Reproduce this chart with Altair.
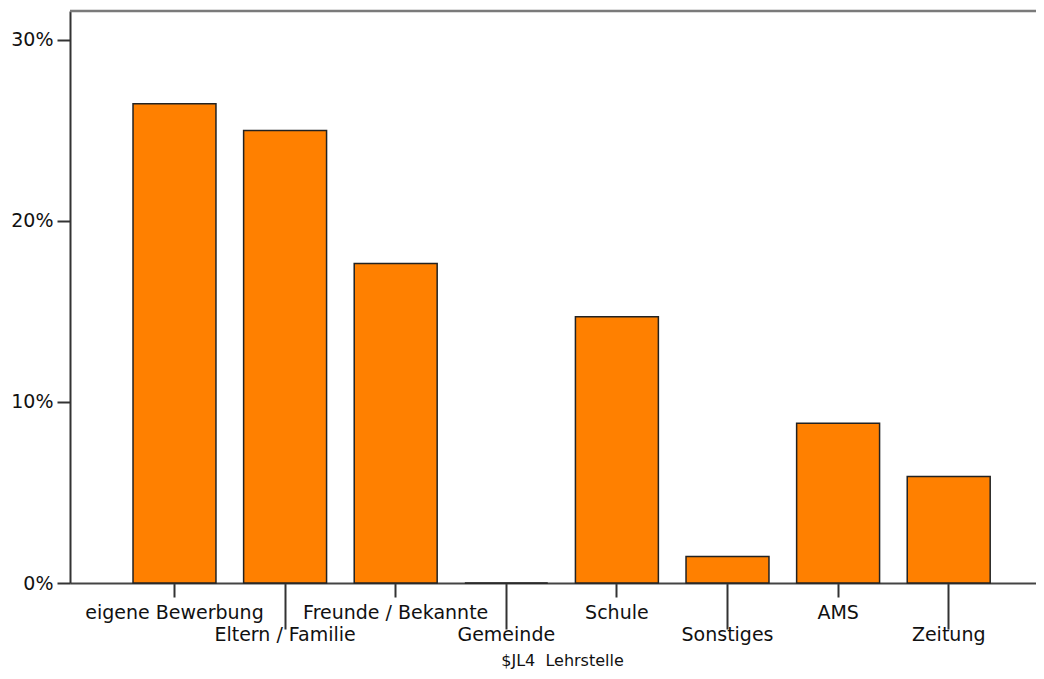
import json
import altair as alt
import pandas as pd

categories = ["eigene Bewerbung", "Eltern / Familie", "Freunde / Bekannte", "Gemeinde",
              "Schule", "Sonstiges", "AMS", "Zeitung"]
percents = [26.47, 25.00, 17.65, 0.0, 14.71, 1.47, 8.82, 5.88]
y_ticks = [0, 10, 20, 30]
lower_row = ["Eltern / Familie", "Gemeinde", "Sonstiges", "Zeitung"]
y_max = 31.6

df = pd.DataFrame({"cat": categories, "pct": percents})

test = "indexof(" + json.dumps(lower_row) + ", datum.value) >= 0"
FONT = "DejaVu Sans"

x_axis = alt.Axis(
    title="$JL4\u00a0 Lehrstelle",
    titleFont=FONT, titleFontSize=16, titleFontWeight="normal", titleColor="#111",
    titleX=492, titleY=82, titleAlign="center", titleBaseline="alphabetic",
    labelAngle=0, labelFont=FONT, labelFontSize=19, labelColor="#111",
    labelBaseline="top", labelLimit=400, labelOverlap=False,
    tickSize={"condition": {"test": test, "value": 46}, "value": 14},
    labelPadding={"condition": {"test": test, "value": -4}, "value": 6},
    tickColor="#333", tickWidth=2, domainColor="#444", domainWidth=2,
)

y_axis = alt.Axis(
    title=None, values=y_ticks, labelExpr="datum.value + '%'",
    labelFont=FONT, labelFontSize=19, labelColor="#111", labelPadding=4,
    tickSize=13, tickColor="#333", tickWidth=2, domainColor="#333", domainWidth=2,
    grid=False,
)

bars = alt.Chart(df).mark_bar(color="#FF8000", stroke="#222", strokeWidth=1.5).encode(
    x=alt.X("cat:N", sort=categories,
            scale=alt.Scale(paddingInner=0.25, paddingOuter=0.492, align=0.579),
            axis=x_axis),
    y=alt.Y("pct:Q", scale=alt.Scale(domain=[0, y_max], nice=False), axis=y_axis),
)

top_line = alt.Chart(pd.DataFrame({"k": [0]})).mark_rule(color="#7a7a7a", strokeWidth=2.5).encode(
    y=alt.datum(y_max)
)

chart = alt.layer(bars, top_line).properties(
    width=966, height=572,
    autosize=alt.AutoSizeParams(type="none"),
    padding={"left": 62, "top": 3, "right": 0, "bottom": 88},
).configure_view(stroke=None)

chart.save("out.html", embed_options={"renderer": "svg", "actions": False})
